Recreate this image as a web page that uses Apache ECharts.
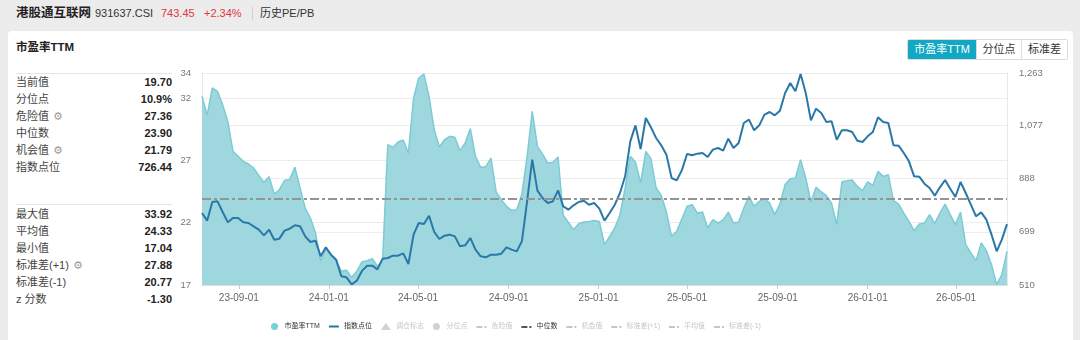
<!DOCTYPE html>
<html>
<head>
<meta charset="utf-8">
<script src="https://cdn.jsdelivr.net/npm/echarts@6/dist/echarts.min.js"></script>
<style>
  html,body{margin:0;padding:0;}
  body{width:1080px;height:340px;overflow:hidden;background:#ececec;position:relative;
       font-family:"Liberation Sans",Arial,"Noto Sans CJK SC",sans-serif;color:#333;}
  .abs{position:absolute;white-space:nowrap;}
  #card{position:absolute;left:8px;top:31px;width:1065px;height:330px;background:#fff;border-radius:4px;}
  .hdr{top:5px;height:17px;line-height:17px;}
  .row{position:absolute;left:16px;width:156px;height:17px;line-height:17px;font-size:11px;}
  .row .lb{position:absolute;left:0;color:#444;}
  .row .vl{position:absolute;right:0;font-weight:bold;color:#222;}
  .gear{color:#999;font-family:"DejaVu Sans";font-size:11px;margin-left:4px;}
  .sep{position:absolute;left:16px;width:156px;height:1px;background:#e6e6e6;}
  #btns{position:absolute;left:907px;top:39px;height:19px;display:flex;border:1px solid #dcdcdc;border-radius:2px;overflow:hidden;}
  #btns div{height:19px;line-height:19px;font-size:11px;text-align:center;color:#333;background:#fff;}
  #btns div+div{border-left:1px solid #dcdcdc;}
  #btns .on{background:#12a8c3;color:#fff;}
  #chart{position:absolute;left:0;top:0;width:1080px;height:340px;}
</style>
</head>
<body>
<div class="abs hdr" style="left:16px;font-size:12.5px;font-weight:bold;color:#222;">港股通互联网</div>
<div class="abs hdr" style="left:95px;font-size:11px;color:#333;">931637.CSI</div>
<div class="abs hdr" style="left:161px;font-size:11px;color:#e0383c;">743.45</div>
<div class="abs hdr" style="left:204px;font-size:11px;color:#e0383c;">+2.34%</div>
<div class="abs" style="left:252px;top:7px;width:1px;height:13px;background:#cfcfcf;"></div>
<div class="abs hdr" style="left:260px;font-size:11px;color:#333;">历史PE/PB</div>

<div id="card"></div>
<div class="abs" style="left:16px;top:39px;height:17px;line-height:17px;font-size:11.5px;font-weight:bold;color:#222;">市盈率TTM</div>
<div class="sep" style="top:73px;"></div>
<div id="stats1"></div>
<div class="sep" style="top:204px;"></div>
<div id="stats2"></div>

<div id="btns">
  <div class="on" style="width:68px;">市盈率TTM</div>
  <div style="width:44px;">分位点</div>
  <div style="width:45px;">标准差</div>
</div>

<div id="chart"></div>

<script>
// ---- stats panel ----
const statLabels1 = ['当前值','分位点','危险值','中位数','机会值','指数点位'];
const statValues1 = ['19.70','10.9%','27.36','23.90','21.79','726.44'];
const statGear1   = [false,false,true,false,true,false];
const statLabels2 = ['最大值','平均值','最小值','标准差(+1)','标准差(-1)','z 分数'];
const statValues2 = ['33.92','24.33','17.04','27.88','20.77','-1.30'];
const statGear2   = [false,false,false,true,false,false];

// ---- reference lines ----
const refNames  = ['危险值','中位数','机会值','标准差(+1)','平均值','标准差(-1)'];
const refValues = [27.36, 23.90, 21.79, 27.88, 24.33, 20.77];

// ---- x axis ----
const startDate = '2023-07-13';   // weekly observations
const tickDates = ['2023-09-01','2024-01-01','2024-05-01','2024-09-01','2025-01-01','2025-05-01','2025-09-01','2026-01-01','2026-05-01'];

// ---- series values (weekly) ----
const peValues = [
32.13,30.61,32.80,32.53,31.46,30.12,27.72,27.32,26.92,26.70,
26.38,25.79,25.23,25.69,24.30,24.64,25.39,25.47,26.44,24.78,
23.17,22.37,21.17,18.90,19.91,19.43,18.95,18.10,18.18,17.61,
18.10,18.85,18.95,19.11,18.50,18.95,28.25,28.04,28.47,28.63,
27.58,32.00,33.60,33.92,32.13,29.46,28.07,28.65,28.92,28.84,
27.77,28.39,29.54,27.32,26.44,26.49,27.18,24.46,23.84,23.31,
22.99,23.04,24.30,27.30,30.93,28.12,27.50,26.78,26.84,27.26,
22.59,22.02,21.44,21.92,22.05,22.10,22.18,22.10,20.23,20.90,
21.57,22.64,24.78,27.32,26.86,25.18,27.72,27.13,24.78,24.19,
22.85,20.90,21.30,22.30,23.31,23.44,22.77,22.85,21.57,22.24,
21.97,22.24,22.85,21.97,22.05,23.17,24.11,23.31,23.71,23.92,
23.57,22.64,23.50,25.05,25.53,25.58,27.05,25.58,23.66,24.83,
24.46,24.16,23.57,21.84,25.26,25.37,25.42,24.91,24.56,25.26,
24.99,26.11,25.71,25.85,23.76,23.49,22.77,22.10,21.36,21.89,
21.97,22.64,21.92,22.77,23.49,22.64,21.84,22.85,20.23,19.57,
18.95,20.37,19.75,18.63,17.04,17.83,19.70];
const indexValues = [
765.7,738.5,804.8,807.2,769.3,732.6,748.0,748.0,732.6,730.2,
718.4,706.5,686.4,706.5,671.0,674.6,703.0,710.0,721.9,718.4,
682.8,662.7,667.4,611.8,643.8,617.7,600.0,540.8,537.2,512.0,
525.4,560.0,578.6,578.6,565.6,603.5,605.9,614.2,614.2,622.5,
584.6,688.8,730.2,726.6,756.2,698.2,673.4,685.2,688.8,682.8,
647.3,650.9,677.0,635.5,611.8,608.3,617.7,617.7,621.3,643.8,
635.5,629.6,666.0,807.2,955.2,845.0,819.0,801.2,807.2,846.2,
789.4,777.6,793.0,804.8,809.5,795.3,801.2,781.1,738.5,765.7,
795.3,836.8,896.0,1020.3,1077.1,993.0,1103.2,1070.0,1032.1,1006.1,
973.0,890.0,881.8,918.0,975.3,970.6,976.5,978.8,964.6,990.7,
996.6,987.1,1029.8,996.6,1014.4,1085.4,1097.2,1059.4,1077.1,1115.0,
1124.5,1112.6,1129.2,1192.0,1227.5,1197.9,1259.4,1192.0,1094.9,1136.3,
1121.0,1089.0,1091.3,1026.2,1059.4,1059.4,1053.4,1022.6,1017.9,1038.0,
1053.4,1105.5,1089.0,1085.4,1006.1,1004.9,978.8,949.2,896.0,894.8,
869.9,854.5,827.3,856.9,883.0,852.2,822.6,875.8,836.8,795.3,
754.0,768.1,742.0,688.8,629.6,671.0,726.44];

// ---- build stats panel ----
function buildStats(id, top, labels, values, gears){
  const box = document.getElementById(id);
  labels.forEach((l,i)=>{
    const r = document.createElement('div');
    r.className='row'; r.style.top=(top+i*17.1)+'px';
    r.innerHTML = '<span class="lb">'+l+(gears[i]?'<span class="gear">⚙</span>':'')+'</span><span class="vl">'+values[i]+'</span>';
    box.appendChild(r);
  });
}
buildStats('stats1', 73.8, statLabels1, statValues1, statGear1);
buildStats('stats2', 205.5, statLabels2, statValues2, statGear2);

// ---- dates ----
const DAY = 86400000;
const t0 = Date.parse(startDate+'T00:00:00Z');
const dates = peValues.map((_,i)=> t0 + i*7*DAY);
const tickTs = tickDates.map(d=>Date.parse(d+'T00:00:00Z'));
const peData = peValues.map((v,i)=>[dates[i], v]);
const idxData = indexValues.map((v,i)=>[dates[i], v]);

const FONT = '"Liberation Sans", Arial, "Noto Sans CJK SC", sans-serif';
const dashIcon = 'path://M0,0L0,0ZM0,3H6V5H0ZM8,3H10V5H8ZM10,7L10,7Z';
const lineIcon = 'path://M0,0L0,0ZM0,2.5H10V4.5H0ZM10,7L10,7Z';

function pad(n){return (n<10?'0':'')+n;}
function fmtDate(v){const d=new Date(v);return pad(d.getUTCFullYear()%100)+'-'+pad(d.getUTCMonth()+1)+'-'+pad(d.getUTCDate());}

const refSeries = refNames.map((n,i)=>({
  name:n, type:'line', yAxisIndex:0, data:[], symbol:'none',
  itemStyle:{color:'#888'},
  lineStyle:{color:'#999', width:2, type:[9,3,3,3]},
  markLine:{silent:true, symbol:'none', label:{show:false},
    lineStyle:{color:'#949494', width:2, type:[9,3,3,3]},
    data:[{yAxis:refValues[i]}]}
}));

const chart = echarts.init(document.getElementById('chart'), null, {renderer:'canvas'});
chart.setOption({
  animation:false,
  textStyle:{fontFamily:FONT},
  grid:{left:202, right:73, top:73, bottom:55, containLabel:false},
  legend:{
    left:266, top:318, itemWidth:10, itemHeight:7, itemGap:9,
    textStyle:{fontSize:7, color:'#333', fontFamily:FONT},
    inactiveColor:'#c6c6c6',
    selected:{'调仓标志':false,'分位点':false,'危险值':false,'机会值':false,'标准差(+1)':false,'平均值':false,'标准差(-1)':false},
    data:[
      {name:'市盈率TTM', icon:'circle', itemStyle:{color:'#7ccfd9'}},
      {name:'指数点位', icon:lineIcon, itemStyle:{color:'#2a78a8'}},
      {name:'调仓标志', icon:'triangle'},
      {name:'分位点', icon:'circle'},
      {name:'危险值', icon:dashIcon},
      {name:'中位数', icon:dashIcon, itemStyle:{color:'#555'}},
      {name:'机会值', icon:dashIcon},
      {name:'标准差(+1)', icon:dashIcon},
      {name:'平均值', icon:dashIcon},
      {name:'标准差(-1)', icon:dashIcon}
    ]
  },
  xAxis:{
    type:'value', min:dates[0], max:dates[dates.length-1],
    axisLine:{lineStyle:{color:'#d8dde3'}},
    axisTick:{show:true, length:4, lineStyle:{color:'#c8ccd2'}, customValues:tickTs},
    axisLabel:{color:'#666', fontSize:10, margin:8, customValues:tickTs, formatter:v=>fmtDate(v), hideOverlap:false},
    splitLine:{show:false}
  },
  yAxis:[
    {type:'value', min:17, max:34, interval:5, position:'left',
     axisLine:{show:true, lineStyle:{color:'#e6e8eb'}}, axisTick:{show:false},
     axisLabel:{color:'#777', fontSize:9.5, margin:11},
     splitLine:{lineStyle:{color:'#ececec'}}},
    {type:'value', min:510, max:1263, interval:189, position:'right',
     axisLine:{show:true, lineStyle:{color:'#e6e8eb'}}, axisTick:{show:false},
     axisLabel:{color:'#777', fontSize:9.5, margin:12},
     splitLine:{show:true, lineStyle:{color:'#ececec'}}}
  ],
  series:[
    {name:'市盈率TTM', type:'line', yAxisIndex:0, data:peData, symbol:'none', showSymbol:false,
     itemStyle:{color:'#7ccfd9'},
     lineStyle:{color:'#7ccbd5', width:1.5},
     areaStyle:{color:'#9fd7de', opacity:1}},
    {name:'指数点位', type:'line', yAxisIndex:1, data:idxData, symbol:'none', showSymbol:false,
     itemStyle:{color:'#2a78a8'},
     lineStyle:{color:'#2a78a8', width:2}, z:3},
    {name:'调仓标志', type:'scatter', yAxisIndex:0, data:[], symbol:'triangle', itemStyle:{color:'#aaa'}},
    {name:'分位点', type:'scatter', yAxisIndex:0, data:[], symbol:'circle', itemStyle:{color:'#aaa'}}
  ].concat(refSeries)
});
</script>
</body>
</html>
